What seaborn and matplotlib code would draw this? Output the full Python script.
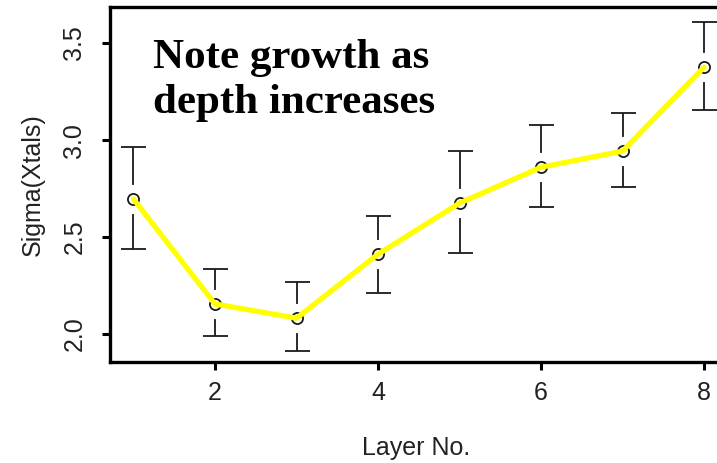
import matplotlib
matplotlib.use("Agg")
import matplotlib.pyplot as plt
import seaborn as sns
import pandas as pd
import numpy as np

layers = [1, 2, 3, 4, 5, 6, 7, 8]
sigma = [2.696, 2.155, 2.082, 2.412, 2.675, 2.86, 2.943, 3.376]
upper = [2.964, 2.335, 2.268, 2.608, 2.943, 3.077, 3.14, 3.61]
lower = [2.438, 1.99, 1.912, 2.211, 2.418, 2.655, 2.757, 3.155]
xticks = [2, 4, 6, 8]
yticks = [2.0, 2.5, 3.0, 3.5]
note = "Note growth as\ndepth increases"

sns.set_theme(style="white")
plt.rcParams['font.family'] = ['Liberation Sans', 'DejaVu Sans']

df = pd.DataFrame({"layer": layers, "sigma": sigma, "upper": upper, "lower": lower})

W, H = 717, 463
fig = plt.figure(figsize=(W / 100, H / 100), dpi=100)
left, right, top, bottom = 110, 722, 7, 362
ax = fig.add_axes([left / W, 1 - bottom / H, (right - left) / W, (bottom - top) / H])

yerr = np.vstack([df["sigma"] - df["lower"], df["upper"] - df["sigma"]])
ax.errorbar(df["layer"], df["sigma"], yerr=yerr, fmt="none", ecolor="#1a1a1a",
            elinewidth=1.3, capsize=9, capthick=1.3, zorder=2)
# white gap around the points
ax.plot(df["layer"], df["sigma"], linestyle="none", marker="o", markersize=21,
        markerfacecolor="white", markeredgecolor="none", zorder=3)
ax.plot(df["layer"], df["sigma"], linestyle="none", marker="o", markersize=8,
        markerfacecolor="white", markeredgecolor="#1a1a1a", markeredgewidth=1.3, zorder=4)
sns.lineplot(data=df, x="layer", y="sigma", ax=ax, color="#ffff00", linewidth=3.8,
             zorder=5, legend=False)

ax.set_xlim(0.712, 8.22)
ax.set_ylim(1.856, 3.686)
ax.set_xticks(xticks)
ax.set_xticklabels([str(t) for t in xticks])
ax.set_yticks(yticks)
ax.set_yticklabels([f"{t:.1f}" for t in yticks], rotation=90, va="center")
ax.tick_params(axis="both", direction="out", length=6, width=2.2, color="black",
               labelsize=18, labelcolor="#222222")
ax.tick_params(axis="x", bottom=True, pad=8)
ax.tick_params(axis="y", left=True, pad=11)
for s in ax.spines.values():
    s.set_linewidth(2.4)
    s.set_color("black")

ax.set_xlabel("Layer No.", fontsize=18, color="#222222", labelpad=22)
ax.set_ylabel("Sigma(Xtals)", fontsize=18, color="#222222", labelpad=13)

fig.text(153 / W, 1 - 39 / H, note, ha="left", va="top",
         family=["Liberation Serif", "DejaVu Serif"], fontweight="bold",
         fontsize=31, color="black", linespacing=1.25)

fig.savefig("out.png", dpi=100, facecolor="white")
